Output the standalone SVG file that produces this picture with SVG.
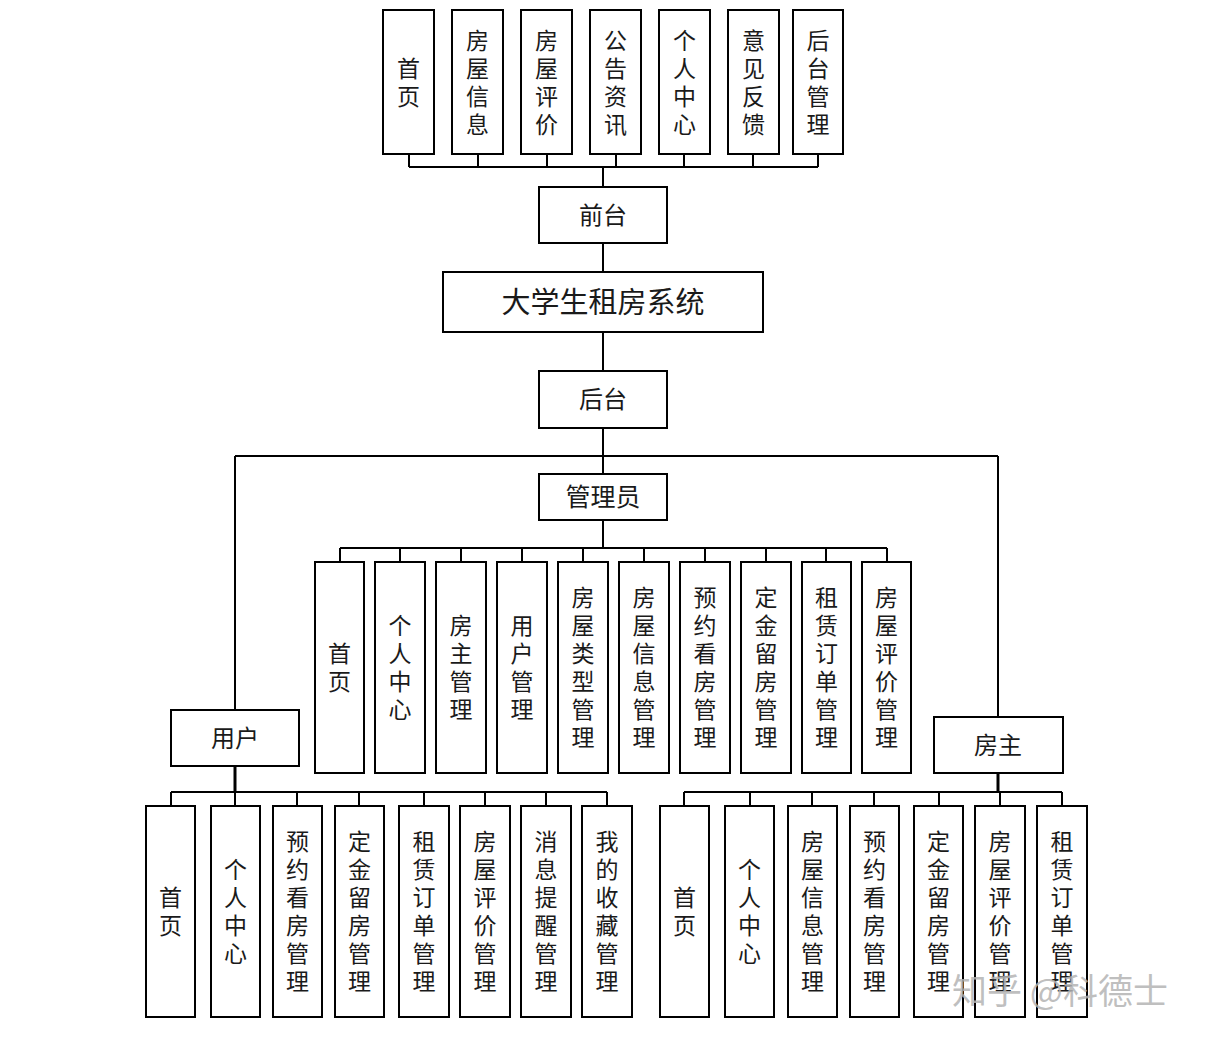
<svg xmlns="http://www.w3.org/2000/svg" width="1213" height="1039" viewBox="0 0 1213 1039">
<style>
.box{fill:#fff;stroke:#000;stroke-width:2}
.t{font-family:"Liberation Serif","Noto Sans CJK SC",serif;font-size:23px;fill:#1a1a1a;text-anchor:middle}
.h{font-family:"Liberation Serif","Noto Sans CJK SC",serif;font-size:24px;fill:#1a1a1a;text-anchor:middle}
.c{stroke:#000;stroke-width:2;fill:none}
.ct{stroke:#000;stroke-width:3;fill:none}
.wm{font-family:"Noto Sans CJK SC","Noto Sans",sans-serif;font-size:35px;fill:#b4b4b4;fill-opacity:0.85}
</style>
<rect width="1213" height="1039" fill="#fff"/>
<g id="connectors">
<path class="c" d="M409,154V167M478,154V167M547,154V167M616,154V167M684,154V167M753,154V167M818,154V167M409,167H818M603,167V187"/>
<path class="c" d="M603,243V272M603,332V371M603,428V474M235,456H998M235,456V710M998,456V717"/>
<path class="c" d="M603,520V548M340,548H887M340,548V562M400,548V562M461,548V562M522,548V562M583,548V562M644,548V562M705,548V562M766,548V562M826,548V562M887,548V562"/>
<path class="ct" d="M235,766V792"/>
<path class="c" d="M171,792H607M171,792V806M235,792V806M297,792V806M359,792V806M424,792V806M485,792V806M546,792V806M607,792V806"/>
<path class="ct" d="M998,773V792"/>
<path class="c" d="M684,792H1062M684,792V806M750,792V806M812,792V806M874,792V806M939,792V806M1000,792V806M1062,792V806"/>
</g>
<g id="f1"><rect class="box" x="383" y="10" width="51" height="144"/><text class="t" x="408.5" y="77"><tspan>首</tspan><tspan x="408.5" dy="28">页</tspan></text></g>
<g id="f2"><rect class="box" x="452" y="10" width="51" height="144"/><text class="t" x="477.5" y="49"><tspan>房</tspan><tspan x="477.5" dy="28">屋</tspan><tspan x="477.5" dy="28">信</tspan><tspan x="477.5" dy="28">息</tspan></text></g>
<g id="f3"><rect class="box" x="521" y="10" width="51" height="144"/><text class="t" x="546.5" y="49"><tspan>房</tspan><tspan x="546.5" dy="28">屋</tspan><tspan x="546.5" dy="28">评</tspan><tspan x="546.5" dy="28">价</tspan></text></g>
<g id="f4"><rect class="box" x="590" y="10" width="51" height="144"/><text class="t" x="615.5" y="49"><tspan>公</tspan><tspan x="615.5" dy="28">告</tspan><tspan x="615.5" dy="28">资</tspan><tspan x="615.5" dy="28">讯</tspan></text></g>
<g id="f5"><rect class="box" x="659" y="10" width="51" height="144"/><text class="t" x="684.5" y="49"><tspan>个</tspan><tspan x="684.5" dy="28">人</tspan><tspan x="684.5" dy="28">中</tspan><tspan x="684.5" dy="28">心</tspan></text></g>
<g id="f6"><rect class="box" x="728" y="10" width="51" height="144"/><text class="t" x="753.5" y="49"><tspan>意</tspan><tspan x="753.5" dy="28">见</tspan><tspan x="753.5" dy="28">反</tspan><tspan x="753.5" dy="28">馈</tspan></text></g>
<g id="f7"><rect class="box" x="793" y="10" width="50" height="144"/><text class="t" x="818" y="49"><tspan>后</tspan><tspan x="818" dy="28">台</tspan><tspan x="818" dy="28">管</tspan><tspan x="818" dy="28">理</tspan></text></g>
<g id="qiantai"><rect class="box" x="539" y="187" width="128" height="56"/><text class="h" x="603" y="224">前台</text></g>
<g id="system"><rect class="box" x="443" y="272" width="320" height="60"/><text class="h" x="603" y="313" style="font-size:29px">大学生租房系统</text></g>
<g id="houtai"><rect class="box" x="539" y="371" width="128" height="57"/><text class="h" x="603" y="408">后台</text></g>
<g id="admin"><rect class="box" x="539" y="474" width="128" height="46"/><text class="h" x="603" y="506" style="font-size:25px">管理员</text></g>
<g id="a1"><rect class="box" x="315" y="562" width="49" height="211"/><text class="t" x="339.5" y="662"><tspan>首</tspan><tspan x="339.5" dy="28">页</tspan></text></g>
<g id="a2"><rect class="box" x="375" y="562" width="50" height="211"/><text class="t" x="400" y="634"><tspan>个</tspan><tspan x="400" dy="28">人</tspan><tspan x="400" dy="28">中</tspan><tspan x="400" dy="28">心</tspan></text></g>
<g id="a3"><rect class="box" x="436" y="562" width="50" height="211"/><text class="t" x="461" y="634"><tspan>房</tspan><tspan x="461" dy="28">主</tspan><tspan x="461" dy="28">管</tspan><tspan x="461" dy="28">理</tspan></text></g>
<g id="a4"><rect class="box" x="497" y="562" width="50" height="211"/><text class="t" x="522" y="634"><tspan>用</tspan><tspan x="522" dy="28">户</tspan><tspan x="522" dy="28">管</tspan><tspan x="522" dy="28">理</tspan></text></g>
<g id="a5"><rect class="box" x="558" y="562" width="50" height="211"/><text class="t" x="583" y="606"><tspan>房</tspan><tspan x="583" dy="28">屋</tspan><tspan x="583" dy="28">类</tspan><tspan x="583" dy="28">型</tspan><tspan x="583" dy="28">管</tspan><tspan x="583" dy="28">理</tspan></text></g>
<g id="a6"><rect class="box" x="619" y="562" width="50" height="211"/><text class="t" x="644" y="606"><tspan>房</tspan><tspan x="644" dy="28">屋</tspan><tspan x="644" dy="28">信</tspan><tspan x="644" dy="28">息</tspan><tspan x="644" dy="28">管</tspan><tspan x="644" dy="28">理</tspan></text></g>
<g id="a7"><rect class="box" x="680" y="562" width="50" height="211"/><text class="t" x="705" y="606"><tspan>预</tspan><tspan x="705" dy="28">约</tspan><tspan x="705" dy="28">看</tspan><tspan x="705" dy="28">房</tspan><tspan x="705" dy="28">管</tspan><tspan x="705" dy="28">理</tspan></text></g>
<g id="a8"><rect class="box" x="741" y="562" width="50" height="211"/><text class="t" x="766" y="606"><tspan>定</tspan><tspan x="766" dy="28">金</tspan><tspan x="766" dy="28">留</tspan><tspan x="766" dy="28">房</tspan><tspan x="766" dy="28">管</tspan><tspan x="766" dy="28">理</tspan></text></g>
<g id="a9"><rect class="box" x="802" y="562" width="49" height="211"/><text class="t" x="826.5" y="606"><tspan>租</tspan><tspan x="826.5" dy="28">赁</tspan><tspan x="826.5" dy="28">订</tspan><tspan x="826.5" dy="28">单</tspan><tspan x="826.5" dy="28">管</tspan><tspan x="826.5" dy="28">理</tspan></text></g>
<g id="a10"><rect class="box" x="862" y="562" width="49" height="211"/><text class="t" x="886.5" y="606"><tspan>房</tspan><tspan x="886.5" dy="28">屋</tspan><tspan x="886.5" dy="28">评</tspan><tspan x="886.5" dy="28">价</tspan><tspan x="886.5" dy="28">管</tspan><tspan x="886.5" dy="28">理</tspan></text></g>
<g id="user"><rect class="box" x="171" y="710" width="128" height="56"/><text class="h" x="235" y="747">用户</text></g>
<g id="landlord"><rect class="box" x="934" y="717" width="129" height="56"/><text class="h" x="998" y="754">房主</text></g>
<g id="u1"><rect class="box" x="146" y="806" width="49" height="211"/><text class="t" x="170.5" y="906"><tspan>首</tspan><tspan x="170.5" dy="28">页</tspan></text></g>
<g id="u2"><rect class="box" x="211" y="806" width="49" height="211"/><text class="t" x="235.5" y="878"><tspan>个</tspan><tspan x="235.5" dy="28">人</tspan><tspan x="235.5" dy="28">中</tspan><tspan x="235.5" dy="28">心</tspan></text></g>
<g id="u3"><rect class="box" x="273" y="806" width="49" height="211"/><text class="t" x="297.5" y="850"><tspan>预</tspan><tspan x="297.5" dy="28">约</tspan><tspan x="297.5" dy="28">看</tspan><tspan x="297.5" dy="28">房</tspan><tspan x="297.5" dy="28">管</tspan><tspan x="297.5" dy="28">理</tspan></text></g>
<g id="u4"><rect class="box" x="335" y="806" width="49" height="211"/><text class="t" x="359.5" y="850"><tspan>定</tspan><tspan x="359.5" dy="28">金</tspan><tspan x="359.5" dy="28">留</tspan><tspan x="359.5" dy="28">房</tspan><tspan x="359.5" dy="28">管</tspan><tspan x="359.5" dy="28">理</tspan></text></g>
<g id="u5"><rect class="box" x="399" y="806" width="50" height="211"/><text class="t" x="424" y="850"><tspan>租</tspan><tspan x="424" dy="28">赁</tspan><tspan x="424" dy="28">订</tspan><tspan x="424" dy="28">单</tspan><tspan x="424" dy="28">管</tspan><tspan x="424" dy="28">理</tspan></text></g>
<g id="u6"><rect class="box" x="460" y="806" width="50" height="211"/><text class="t" x="485" y="850"><tspan>房</tspan><tspan x="485" dy="28">屋</tspan><tspan x="485" dy="28">评</tspan><tspan x="485" dy="28">价</tspan><tspan x="485" dy="28">管</tspan><tspan x="485" dy="28">理</tspan></text></g>
<g id="u7"><rect class="box" x="521" y="806" width="50" height="211"/><text class="t" x="546" y="850"><tspan>消</tspan><tspan x="546" dy="28">息</tspan><tspan x="546" dy="28">提</tspan><tspan x="546" dy="28">醒</tspan><tspan x="546" dy="28">管</tspan><tspan x="546" dy="28">理</tspan></text></g>
<g id="u8"><rect class="box" x="582" y="806" width="50" height="211"/><text class="t" x="607" y="850"><tspan>我</tspan><tspan x="607" dy="28">的</tspan><tspan x="607" dy="28">收</tspan><tspan x="607" dy="28">藏</tspan><tspan x="607" dy="28">管</tspan><tspan x="607" dy="28">理</tspan></text></g>
<g id="l1"><rect class="box" x="660" y="806" width="49" height="211"/><text class="t" x="684.5" y="906"><tspan>首</tspan><tspan x="684.5" dy="28">页</tspan></text></g>
<g id="l2"><rect class="box" x="725" y="806" width="49" height="211"/><text class="t" x="749.5" y="878"><tspan>个</tspan><tspan x="749.5" dy="28">人</tspan><tspan x="749.5" dy="28">中</tspan><tspan x="749.5" dy="28">心</tspan></text></g>
<g id="l3"><rect class="box" x="788" y="806" width="49" height="211"/><text class="t" x="812.5" y="850"><tspan>房</tspan><tspan x="812.5" dy="28">屋</tspan><tspan x="812.5" dy="28">信</tspan><tspan x="812.5" dy="28">息</tspan><tspan x="812.5" dy="28">管</tspan><tspan x="812.5" dy="28">理</tspan></text></g>
<g id="l4"><rect class="box" x="850" y="806" width="49" height="211"/><text class="t" x="874.5" y="850"><tspan>预</tspan><tspan x="874.5" dy="28">约</tspan><tspan x="874.5" dy="28">看</tspan><tspan x="874.5" dy="28">房</tspan><tspan x="874.5" dy="28">管</tspan><tspan x="874.5" dy="28">理</tspan></text></g>
<g id="l5"><rect class="box" x="914" y="806" width="49" height="211"/><text class="t" x="938.5" y="850"><tspan>定</tspan><tspan x="938.5" dy="28">金</tspan><tspan x="938.5" dy="28">留</tspan><tspan x="938.5" dy="28">房</tspan><tspan x="938.5" dy="28">管</tspan><tspan x="938.5" dy="28">理</tspan></text></g>
<g id="l6"><rect class="box" x="975" y="806" width="50" height="211"/><text class="t" x="1000" y="850"><tspan>房</tspan><tspan x="1000" dy="28">屋</tspan><tspan x="1000" dy="28">评</tspan><tspan x="1000" dy="28">价</tspan><tspan x="1000" dy="28">管</tspan><tspan x="1000" dy="28">理</tspan></text></g>
<g id="l7"><rect class="box" x="1037" y="806" width="50" height="211"/><text class="t" x="1062" y="850"><tspan>租</tspan><tspan x="1062" dy="28">赁</tspan><tspan x="1062" dy="28">订</tspan><tspan x="1062" dy="28">单</tspan><tspan x="1062" dy="28">管</tspan><tspan x="1062" dy="28">理</tspan></text></g>
<g id="watermark"><text class="wm" x="952" y="1004">知乎 @科德士</text></g>
</svg>
